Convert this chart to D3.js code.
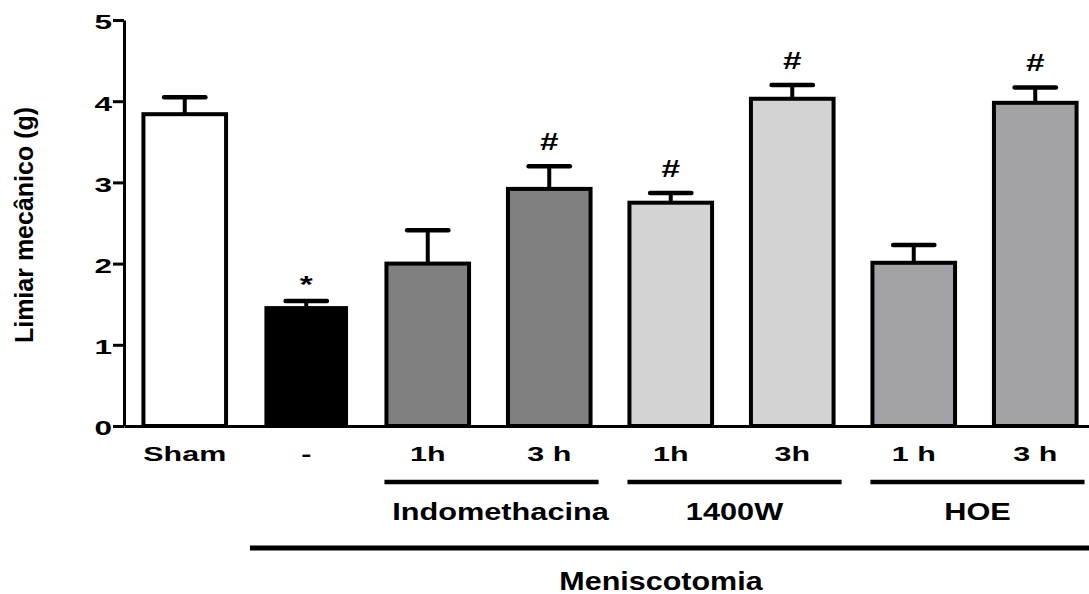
<!DOCTYPE html>
<html>
<head>
<meta charset="utf-8">
<script src="https://cdn.jsdelivr.net/npm/d3@7/dist/d3.min.js"></script>
<style>
  body { margin: 0; background: #fff; }
  text { font-family: Arial, 'Liberation Sans', sans-serif; font-weight: bold; fill: #000; }
</style>
</head>
<body>
<script>
/* data */
var labels = ['Sham', '-', '1h', '3 h', '1h', '3h', '1 h', '3 h'];
var means = [3.84, 1.47, 2.0, 2.92, 2.75, 4.03, 2.01, 3.98];
var sems = [0.21, 0.07, 0.41, 0.28, 0.12, 0.17, 0.22, 0.19];
var marks = ['', '*', '', '#', '#', '#', '', '#'];
var treatment = ['sham', 'vehicle', 'indo', 'indo', '1400W', '1400W', 'HOE', 'HOE'];
var groupNames = ['Indomethacina', '1400W', 'HOE'];
var groupBars = [[2, 3], [4, 5], [6, 7]];
var yTicks = [0, 1, 2, 3, 4, 5];

/* colours per treatment */
var color = d3.scaleOrdinal()
  .domain(['sham', 'vehicle', 'indo', '1400W', 'HOE'])
  .range(['#ffffff', '#000000', '#808080', '#d3d3d3', '#a3a2a7']);

var W = 1089, H = 594;

var svg = d3.select('body').append('svg')
  .attr('width', W)
  .attr('height', H);

var x = d3.scaleBand()
  .domain(d3.range(labels.length))
  .range([124, 1096])
  .paddingInner(0.32)
  .paddingOuter(0.16);

var y = d3.scaleLinear()
  .domain([0, 5])
  .range([426, 20]);

var bw = x.bandwidth();

/* bars */
svg.append('g').selectAll('rect')
  .data(means)
  .join('rect')
  .attr('x', function (d, i) { return x(i); })
  .attr('y', function (d) { return y(d); })
  .attr('width', bw)
  .attr('height', function (d) { return y(0) - y(d); })
  .attr('fill', function (d, i) { return color(treatment[i]); })
  .attr('stroke', '#000')
  .attr('stroke-width', function (d, i) { return treatment[i] === 'vehicle' ? 1 : 4; });

/* error bars (upper only) */
var err = svg.append('g').attr('stroke', '#000');
means.forEach(function (m, i) {
  var cx = x(i) + bw / 2;
  err.append('line')
    .attr('x1', cx).attr('x2', cx)
    .attr('y1', y(m)).attr('y2', y(m + sems[i]))
    .attr('stroke-width', 4);
  err.append('line')
    .attr('x1', cx - bw / 4).attr('x2', cx + bw / 4)
    .attr('y1', y(m + sems[i])).attr('y2', y(m + sems[i]))
    .attr('stroke-width', 4.5)
    .attr('stroke-linecap', 'round');
});

/* significance marks */
svg.append('g').selectAll('text')
  .data(marks)
  .join('text')
  .attr('transform', function (d, i) {
    var off = d === '*' ? 8 : 16;
    return 'translate(' + (x(i) + bw / 2) + ',' + (y(means[i] + sems[i]) - off) + ') scale(1.45,1)';
  })
  .attr('text-anchor', 'middle')
  .attr('font-size', 23)
  .text(function (d) { return d; });

/* y axis */
var gy = svg.append('g')
  .attr('transform', 'translate(124,0)')
  .call(d3.axisLeft(y).tickValues(yTicks).tickSize(11).tickSizeOuter(0).tickFormat(d3.format('d')))
  .attr('font-family', null)
  .attr('font-size', 21);
gy.select('.domain').attr('stroke-width', 3);
gy.selectAll('.tick line').attr('stroke-width', 3);
gy.selectAll('.tick text')
  .attr('x', -8)
  .attr('dy', '0.42em')
  .attr('transform', 'scale(1.5,1)');

/* x axis */
var gx = svg.append('g')
  .attr('transform', 'translate(0,' + y(0) + ')')
  .call(d3.axisBottom(x).tickSize(0).tickSizeOuter(0).tickFormat(function (i) { return labels[i]; }))
  .attr('font-family', null)
  .attr('font-size', 21);
gx.select('.domain').attr('stroke-width', 3);
gx.selectAll('.tick text')
  .attr('y', 35)
  .attr('dy', 0)
  .attr('transform', 'scale(1.45,1)');

/* treatment group lines */
groupBars.forEach(function (g, k) {
  var x1 = x(g[0]) - 2;
  var x2 = x(g[1]) + bw + 8;
  svg.append('line')
    .attr('x1', x1).attr('x2', x2)
    .attr('y1', 482).attr('y2', 482)
    .attr('stroke', '#000')
    .attr('stroke-width', 4.5);
  svg.append('text')
    .attr('transform', 'translate(' + ((x1 + x2) / 2 + (k === 0 ? 9 : 0)) + ',520) scale(1.28,1)')
    .attr('text-anchor', 'middle')
    .attr('font-size', 24)
    .text(groupNames[k]);
});

/* Meniscotomia line */
svg.append('line')
  .attr('x1', x(1) - 15).attr('x2', W)
  .attr('y1', 548).attr('y2', 548)
  .attr('stroke', '#000')
  .attr('stroke-width', 5);
svg.append('text')
  .attr('transform', 'translate(661,590) scale(1.22,1)')
  .attr('text-anchor', 'middle')
  .attr('font-size', 25)
  .text('Meniscotomia');

/* y title */
svg.append('text')
  .attr('transform', 'translate(33,225) rotate(-90)')
  .attr('text-anchor', 'middle')
  .attr('font-size', 25)
  .text('Limiar mecânico (g)');
</script>
</body>
</html>
